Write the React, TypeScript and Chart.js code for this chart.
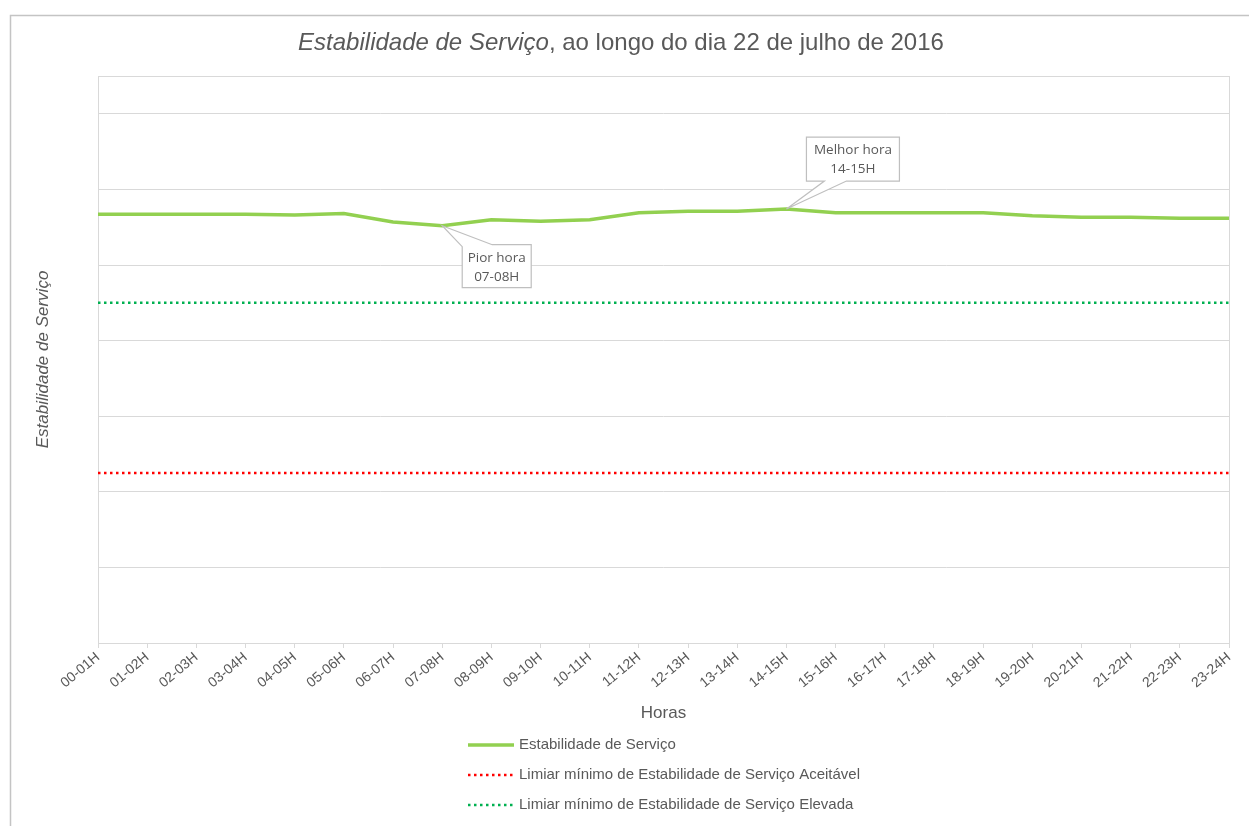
import { useEffect, useRef } from "react";
import { Chart, registerables } from "chart.js";

Chart.register(...registerables);

const horas = [
  "00-01H", "01-02H", "02-03H", "03-04H", "04-05H", "05-06H", "06-07H", "07-08H",
  "08-09H", "09-10H", "10-11H", "11-12H", "12-13H", "13-14H", "14-15H", "15-16H",
  "16-17H", "17-18H", "18-19H", "19-20H", "20-21H", "21-22H", "22-23H", "23-24H",
];

const estabilidade = [
  5.67, 5.67, 5.67, 5.67, 5.66, 5.68, 5.57, 5.52,
  5.60, 5.58, 5.60, 5.69, 5.71, 5.71, 5.74, 5.69,
  5.69, 5.69, 5.69, 5.65, 5.63, 5.63, 5.62, 5.62,
];

const limiarAceitavel = [
  2.25, 2.25, 2.25, 2.25, 2.25, 2.25, 2.25, 2.25,
  2.25, 2.25, 2.25, 2.25, 2.25, 2.25, 2.25, 2.25,
  2.25, 2.25, 2.25, 2.25, 2.25, 2.25, 2.25, 2.25,
];

const limiarElevada = [
  4.5, 4.5, 4.5, 4.5, 4.5, 4.5, 4.5, 4.5,
  4.5, 4.5, 4.5, 4.5, 4.5, 4.5, 4.5, 4.5,
  4.5, 4.5, 4.5, 4.5, 4.5, 4.5, 4.5, 4.5,
];

const seriesNames = [
  "Estabilidade de Serviço",
  "Limiar mínimo de Estabilidade de Serviço Aceitável",
  "Limiar mínimo de Estabilidade de Serviço Elevada",
];

const titleItalic = "Estabilidade de Serviço";
const titleRest = ", ao longo do dia 22 de julho de 2016";
const xTitle = "Horas";
const yTitle = "Estabilidade de Serviço";

const melhorIdx = 14;
const melhorLines = ["Melhor hora", "14-15H"];
const piorIdx = 7;
const piorLines = ["Pior hora", "07-08H"];

const FONT = '"Liberation Sans", Arial, sans-serif';
const CALLOUT_FONT = '"Open Sans", "Noto Sans", sans-serif';
const TEXT = "#595959";
const GRID = "#d9d9d9";
const GREEN = "#92d050";
const RED = "#ff0000";
const DARKGREEN = "#00b050";

const decorPlugin = {
  id: "decor",
  beforeDraw(chart: any) {
    const ctx = chart.ctx;
    ctx.save();
    ctx.fillStyle = "#ffffff";
    ctx.fillRect(0, 0, chart.width, chart.height);
    ctx.strokeStyle = "#c4c4c4";
    ctx.lineWidth = 1.5;
    ctx.beginPath();
    ctx.moveTo(10.5, chart.height);
    ctx.lineTo(10.5, 15.5);
    ctx.lineTo(chart.width, 15.5);
    ctx.stroke();
    ctx.restore();
  },
  beforeDatasetsDraw(chart: any) {
    const { ctx, chartArea } = chart;
    ctx.save();
    ctx.strokeStyle = GRID;
    ctx.lineWidth = 1;
    const l = Math.round(chartArea.left) + 0.5;
    const t = Math.round(chartArea.top) + 0.5;
    const r = Math.round(chartArea.right) + 0.5;
    const b = Math.round(chartArea.bottom) + 0.5;
    ctx.strokeRect(l, t, r - l, b - t);
    ctx.restore();
  },
  afterDraw(chart: any) {
    const { ctx, chartArea } = chart;
    const xs = chart.scales.x;
    const ys = chart.scales.y;
    ctx.save();
    ctx.fillStyle = TEXT;
    ctx.textBaseline = "middle";

    // Title (mixed italic / regular)
    ctx.font = `italic 24px ${FONT}`;
    const w1 = ctx.measureText(titleItalic).width;
    ctx.font = `24px ${FONT}`;
    const w2 = ctx.measureText(titleRest).width;
    const tx = 621 - (w1 + w2) / 2;
    ctx.textAlign = "left";
    ctx.font = `italic 24px ${FONT}`;
    ctx.fillText(titleItalic, tx, 43);
    ctx.font = `24px ${FONT}`;
    ctx.fillText(titleRest, tx + w1, 43);

    // X axis title
    ctx.textAlign = "center";
    ctx.font = `17px ${FONT}`;
    ctx.fillText(xTitle, (chartArea.left + chartArea.right) / 2, 713);

    // Y axis title
    ctx.save();
    ctx.translate(43, (chartArea.top + chartArea.bottom) / 2);
    ctx.rotate(-Math.PI / 2);
    ctx.font = `italic 17px ${FONT}`;
    ctx.fillText(yTitle, 0, 0);
    ctx.restore();

    // Legend
    const legendItems = [
      { color: GREEN, width: 3.5, dash: [] as number[] },
      { color: RED, width: 2.5, dash: [2.5, 3.5] },
      { color: DARKGREEN, width: 2.5, dash: [2.5, 3.5] },
    ];
    ctx.font = `15px ${FONT}`;
    ctx.textAlign = "left";
    legendItems.forEach((it, i) => {
      const y = 745 + i * 30;
      ctx.save();
      ctx.strokeStyle = it.color;
      ctx.lineWidth = it.width;
      ctx.setLineDash(it.dash);
      ctx.beginPath();
      ctx.moveTo(468, y);
      ctx.lineTo(514, y);
      ctx.stroke();
      ctx.restore();
      ctx.fillStyle = TEXT;
      ctx.fillText(seriesNames[i], 519, y);
    });

    // Callouts
    const drawCallout = (idx: number, lines: string[], above: boolean) => {
      const px = xs.getPixelForValue(idx);
      const py = ys.getPixelForValue(estabilidade[idx]);
      ctx.save();
      ctx.strokeStyle = "#bfbfbf";
      ctx.fillStyle = "#ffffff";
      ctx.lineWidth = 1.2;
      ctx.beginPath();
      let L, T, W, H;
      if (above) {
        W = 93; H = 44;
        L = px + 20; T = py - 72;
        const B = T + H;
        ctx.moveTo(L, T);
        ctx.lineTo(L + W, T);
        ctx.lineTo(L + W, B);
        ctx.lineTo(px + 60, B);
        ctx.lineTo(px, py);
        ctx.lineTo(px + 38, B);
        ctx.lineTo(L, B);
        ctx.closePath();
      } else {
        W = 69; H = 43;
        L = px + 20; T = py + 19;
        const B = T + H;
        ctx.moveTo(px, py);
        ctx.lineTo(L + 30, T);
        ctx.lineTo(L + W, T);
        ctx.lineTo(L + W, B);
        ctx.lineTo(L, B);
        ctx.lineTo(L, T + 2);
        ctx.closePath();
      }
      ctx.fill();
      ctx.stroke();
      ctx.fillStyle = TEXT;
      ctx.font = `13.5px ${CALLOUT_FONT}`;
      ctx.textAlign = "center";
      ctx.textBaseline = "middle";
      ctx.fillText(lines[0], L + W / 2, T + 13.5);
      ctx.fillText(lines[1], L + W / 2, T + 32.5);
      ctx.restore();
    };
    drawCallout(melhorIdx, melhorLines, true);
    drawCallout(piorIdx, piorLines, false);

    ctx.restore();
  },
};

export default function App() {
  const canvasRef = useRef<HTMLCanvasElement | null>(null);

  useEffect(() => {
    if (!canvasRef.current) return;
    const chart = new Chart(canvasRef.current, {
      type: "line",
      data: {
        labels: horas,
        datasets: [
          {
            label: seriesNames[0],
            data: estabilidade,
            borderColor: GREEN,
            backgroundColor: GREEN,
            borderWidth: 3.5,
            pointRadius: 0,
            pointHoverRadius: 0,
            tension: 0,
            fill: false,
          },
          {
            label: seriesNames[1],
            data: limiarAceitavel,
            borderColor: RED,
            backgroundColor: RED,
            borderWidth: 2.5,
            borderDash: [2.5, 3.5],
            pointRadius: 0,
            pointHoverRadius: 0,
            fill: false,
          },
          {
            label: seriesNames[2],
            data: limiarElevada,
            borderColor: DARKGREEN,
            backgroundColor: DARKGREEN,
            borderWidth: 2.5,
            borderDash: [2.5, 3.5],
            pointRadius: 0,
            pointHoverRadius: 0,
            fill: false,
          },
        ],
      },
      options: {
        responsive: true,
        maintainAspectRatio: false,
        animation: false,
        events: [],
        layout: { padding: { left: 98, top: 76, right: 20, bottom: 123 } },
        plugins: {
          legend: { display: false },
          title: { display: false },
          tooltip: { enabled: false },
        },
        scales: {
          x: {
            type: "category",
            offset: false,
            grid: {
              display: true,
              drawOnChartArea: false,
              drawTicks: true,
              tickLength: 5,
              color: GRID,
            },
            border: { display: true, color: GRID },
            ticks: {
              color: TEXT,
              font: { family: FONT, size: 14 },
              minRotation: 40,
              maxRotation: 40,
              autoSkip: false,
              padding: 1,
            },
            afterFit(s: any) {
              s.height = 60;
            },
          },
          y: {
            min: 0,
            max: 7.5,
            ticks: { display: false, stepSize: 1 },
            grid: { color: GRID, drawTicks: false },
            border: { display: false },
            afterFit(s: any) {
              s.width = 0;
            },
          },
        },
      },
      plugins: [decorPlugin],
    });
    return () => chart.destroy();
  }, []);

  return (
    <div style={{ position: "fixed", left: 0, top: 0, width: 1249, height: 826 }}>
      <canvas ref={canvasRef} />
    </div>
  );
}
